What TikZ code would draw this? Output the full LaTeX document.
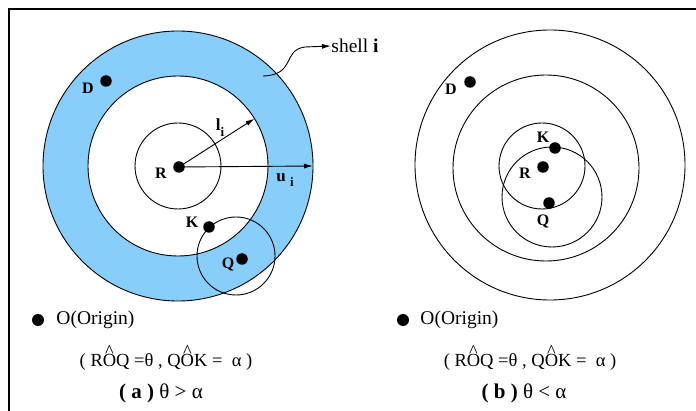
\documentclass[tikz,border=0pt]{standalone}
\usepackage{fontspec}
\setmainfont{Liberation Serif}
\usetikzlibrary{arrows.meta}
\definecolor{shellblue}{RGB}{135,206,250}
\newcommand\myhatO{\makebox[0pt][l]{\makebox[0.722em]{\raisebox{0.52em}{\^{}}}}O}
\begin{document}
\begin{tikzpicture}[x=1pt,y=-1pt,line width=0.9pt,
  dot/.style={circle,fill=black,draw=none,inner sep=0pt,minimum size=11.5pt},
  lab/.style={font=\fontsize{16}{16}\selectfont\bfseries,inner sep=0pt},
  txt/.style={font=\fontsize{19.5}{20}\selectfont,inner sep=0pt,anchor=west},
  formula/.style={font=\fontsize{18.5}{19}\selectfont,inner sep=0pt},
  caption/.style={font=\fontsize{21}{22}\selectfont,inner sep=0pt},
  ring/.style={draw=black,line width=0.9pt},
  pointer/.style={-{Latex[length=9pt,width=5pt]},line width=0.9pt}]
\useasboundingbox (0,0) rectangle (696,411);
\draw[line width=1.2pt] (9,411) -- (9,9) -- (696,9);

% ---------- left panel ----------
\fill[shellblue,even odd rule] (178,166) circle[radius=135pt] (178,166) circle[radius=90pt];
\draw[ring] (178,166) circle[radius=135pt];
\draw[ring] (178,166) circle[radius=90pt];
\draw[ring] (178,166) circle[radius=43pt];
\draw[ring] (236,256) circle[radius=39pt];

\node[dot] (R1) at (179,167) {};
\node[dot] (D1) at (106,81) {};
\node[dot] (K1) at (209,227) {};
\node[dot] (Q1) at (242,259) {};
\node[lab] (R1l) at (161,173) {R};
\node[lab] (D1l) at (88,88) {D};
\node[lab] (K1l) at (192,222) {K};
\node[lab] (Q1l) at (228,265) {Q};

\coordinate (ltip) at (254.5,118.6);
\coordinate (utip) at (313,166);
\draw[pointer] (R1.center) -- (ltip);
\draw[pointer] (R1.center) -- (utip);
\node[lab,font=\fontsize{17}{17}\selectfont\bfseries] (li) at (220,128) {l\raisebox{-0.35em}{\fontsize{13}{13}\selectfont i}};
\node[lab,font=\fontsize{17}{17}\selectfont\bfseries] (ui) at (285,180) {u\hspace{0.25em}\raisebox{-0.3em}{\fontsize{13}{13}\selectfont i}};

\coordinate (s0) at (263,76);
\node[txt] (shell) at (331,46) {shell \textbf{i}};
\draw[pointer] (s0) .. controls (296,75) and (282,50) .. (305,47) -- (shell.west);

\node[dot,minimum size=12pt] (O1) at (38,320) {};
\node[txt] (O1t) at (56,320) {O(Origin)};
\node[formula] (f1) at (166,358) {( R\myhatO Q =θ , Q\myhatO K = \ α )};
\node[caption] (c1) at (161,393) {\textbf{( a )} θ > α};

% ---------- right panel ----------
\draw[ring] (550,165) circle[radius=135pt];
\draw[ring] (546,168) circle[radius=93pt];
\draw[ring] (542,166) circle[radius=43pt];
\draw[ring] (552,197) circle[radius=50pt];

\node[dot] (D2) at (470,82) {};
\node[dot] (K2) at (555,148) {};
\node[dot] (R2) at (543,167) {};
\node[dot] (Q2) at (549,203) {};
\node[lab] (D2l) at (451,89) {D};
\node[lab] (K2l) at (543,137) {K};
\node[lab] (R2l) at (525,173) {R};
\node[lab] (Q2l) at (543,222) {Q};

\node[dot,minimum size=12pt] (O2) at (403,320) {};
\node[txt] (O2t) at (420,320) {O(Origin)};
\node[formula] (f2) at (530,358) {( R\myhatO Q =θ , Q\myhatO K = \ α )};
\node[caption] (c2) at (524,393) {\textbf{( b )} θ < α};
\end{tikzpicture}
\end{document}
